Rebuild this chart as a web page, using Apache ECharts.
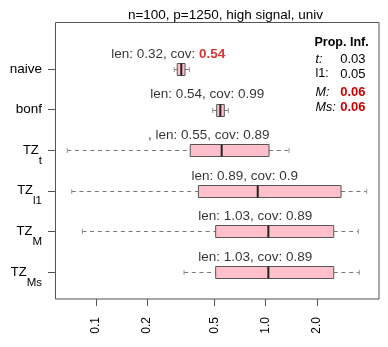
<!DOCTYPE html>
<html>
<head>
<meta charset="utf-8">
<script src="https://cdn.jsdelivr.net/npm/echarts@6/dist/echarts.min.js"></script>
<style>
  html, body { margin: 0; padding: 0; background: #fff; }
  #main { width: 388px; height: 347px; }
</style>
</head>
<body>
<div id="main"></div>
<script>
// methods, top to bottom
const methods = ['naive', 'bonf', 'TZ_t', 'TZ_l1', 'TZ_M', 'TZ_Ms'];
const methodLabels = ['{a|naive}', '{a|bonf}', '{b|TZ}{s|t}', '{b|TZ}{s|l1}', '{b|TZ}{s|M}', '{b|TZ}{s|Ms}'];

// interval lengths (box stats)
const boxMin = [0.289, 0.487, 0.0677, 0.0719, 0.0831, 0.330];
const boxQ1  = [0.301, 0.514, 0.359, 0.401, 0.507, 0.507];
const boxMed = [0.318, 0.540, 0.550, 0.897, 1.036, 1.036];
const boxQ3  = [0.3345, 0.570, 1.046, 2.778, 2.516, 2.516];
const boxMax = [0.355, 0.602, 1.372, 3.937, 3.513, 3.561];

// annotation above each box
const prefixText = ['', '', ', ', '', '', ''];
const lenText = ['0.32', '0.54', '0.55', '0.89', '1.03', '1.03'];
const covText = ['0.54', '0.99', '0.89', '0.9', '0.89', '0.89'];
const covRed  = [true, false, false, false, false, false];

const xTicks = [0.1, 0.2, 0.5, 1, 2];
const xTickLabels = ['0.1', '0.2', '0.5', '1.0', '2.0'];

// Prop. Inf. table
const infNames  = ['t:', 'l1:', 'M:', 'Ms:'];
const infItalic = [true, false, true, true];
const infValues = ['0.03', '0.05', '0.06', '0.06'];
const infRed    = [false, false, true, true];

const FONT = '"Liberation Sans", Arial, Helvetica, sans-serif';
const RED = '#cd0000';

let boxData = methods.map((m, i) => [i, boxMin[i], boxQ1[i], boxMed[i], boxQ3[i], boxMax[i]]);
let labelData = methods.map((m, i) => [boxMed[i], i]);

function renderBox(params, api) {
    let c = api.value(0);
    let pMin = api.coord([api.value(1), c]);
    let pQ1 = api.coord([api.value(2), c]);
    let pMed = api.coord([api.value(3), c]);
    let pQ3 = api.coord([api.value(4), c]);
    let pMax = api.coord([api.value(5), c]);
    let y = Math.round(pMin[1]) + 0.5;
    let h = 12;
    let whisk = {stroke: '#777', lineWidth: 1, lineDash: [4, 3.7], fill: null};
    let cap = {stroke: '#999', lineWidth: 1};
    return {
        type: 'group',
        children: [
            {type: 'line', shape: {x1: pMin[0], y1: y, x2: pQ1[0], y2: y}, style: whisk},
            {type: 'line', shape: {x1: pQ3[0], y1: y, x2: pMax[0], y2: y}, style: whisk},
            {type: 'line', shape: {x1: pMin[0], y1: y - 2.5, x2: pMin[0], y2: y + 2.5}, style: cap},
            {type: 'line', shape: {x1: pMax[0], y1: y - 2.5, x2: pMax[0], y2: y + 2.5}, style: cap},
            {type: 'rect', shape: {x: pQ1[0], y: y - h / 2, width: pQ3[0] - pQ1[0], height: h},
                style: {fill: '#ffc0cb', stroke: '#555', lineWidth: 1}},
            {type: 'line', shape: {x1: pMed[0], y1: y - h / 2, x2: pMed[0], y2: y + h / 2},
                style: {stroke: '#222', lineWidth: 2}}
        ]
    };
}

let legendEls = [
    {type: 'text', x: 314.5, y: 43, style: {text: 'Prop. Inf.', font: 'bold 12.5px ' + FONT, fill: '#000', verticalAlign: 'middle'}}
];
const infY = [59.5, 74, 92.5, 107.5];
infNames.forEach((n, i) => {
    legendEls.push({type: 'text', x: 315.5, y: infY[i], style: {
        text: n, font: (infItalic[i] ? 'italic ' : '') + '12.5px ' + FONT, fill: '#000', verticalAlign: 'middle'}});
    legendEls.push({type: 'text', x: 365.5, y: infY[i], style: {
        text: infValues[i], font: (infRed[i] ? 'bold ' : '') + '13px ' + FONT,
        fill: infRed[i] ? RED : '#000', align: 'right', verticalAlign: 'middle'}});
});

let chart = echarts.init(document.getElementById('main'), null, {renderer: 'canvas'});
let option = {
    animation: false,
    backgroundColor: '#fff',
    textStyle: {fontFamily: FONT},
    grid: {left: 55, right: 9, top: 48.7, bottom: 54.7, containLabel: false},
    xAxis: {
        type: 'log',
        logBase: 10,
        min: 0.0573,
        max: 4.65,
        offset: 6.7,
        axisLine: {show: false},
        splitLine: {show: false},
        minorTick: {show: false},
        axisTick: {show: true, length: 7, customValues: xTicks, lineStyle: {color: '#555'}},
        axisLabel: {
            customValues: xTicks,
            rotate: 90,
            margin: 18,
            fontSize: 12,
            color: '#000',
            fontFamily: FONT,
            formatter: v => {
                let k = xTicks.findIndex(t => Math.abs(t - v) < 1e-6);
                return k >= 0 ? xTickLabels[k] : '';
            }
        }
    },
    yAxis: {
        type: 'category',
        data: methods,
        inverse: true,
        axisLine: {show: false},
        splitLine: {show: false},
        axisTick: {show: true, length: 7, alignWithLabel: true, lineStyle: {color: '#555'}},
        axisLabel: {
            margin: 13,
            color: '#000',
            fontFamily: FONT,
            formatter: (v, i) => methodLabels[i],
            rich: {
                a: {fontSize: 13.5, fontFamily: FONT, color: '#000'},
                b: {fontSize: 13, lineHeight: 13, fontFamily: FONT, color: '#000'},
                s: {fontSize: 11.5, lineHeight: 11, fontFamily: FONT, color: '#000', padding: [21, 0, 0, 0]}
            }
        }
    },
    series: [
        {
            type: 'custom',
            renderItem: renderBox,
            data: boxData,
            encode: {x: [1, 2, 3, 4, 5], y: 0},
            silent: true,
            clip: false
        },
        {
            type: 'scatter',
            data: labelData,
            symbolSize: 0,
            silent: true,
            label: {
                show: true,
                position: 'inside',
                offset: [-13, -15],
                align: 'center',
                verticalAlign: 'middle',
                fontSize: 13.5,
                fontFamily: FONT,
                color: '#000',
                formatter: p => {
                    let i = p.dataIndex;
                    let cov = covRed[i] ? '{r|' + covText[i] + '}' : covText[i];
                    return prefixText[i] + 'len: ' + lenText[i] + ', cov: ' + cov;
                },
                rich: {
                    r: {fontSize: 13.5, fontWeight: 'bold', color: RED, fontFamily: FONT}
                }
            }
        }
    ],
    graphic: [
        {type: 'rect', shape: {x: 55.5, y: 22.5, width: 323.5, height: 276.5}, style: {fill: null, stroke: '#555', lineWidth: 1}, silent: true},
        {type: 'text', x: 225.5, y: 15, style: {text: 'n=100, p=1250, high signal, univ', font: '13.5px ' + FONT, fill: '#000', align: 'center', verticalAlign: 'middle'}, silent: true}
    ].concat(legendEls)
};
chart.setOption(option);
window.onresize = function () {
    chart.resize();
};
</script>
</body>
</html>
